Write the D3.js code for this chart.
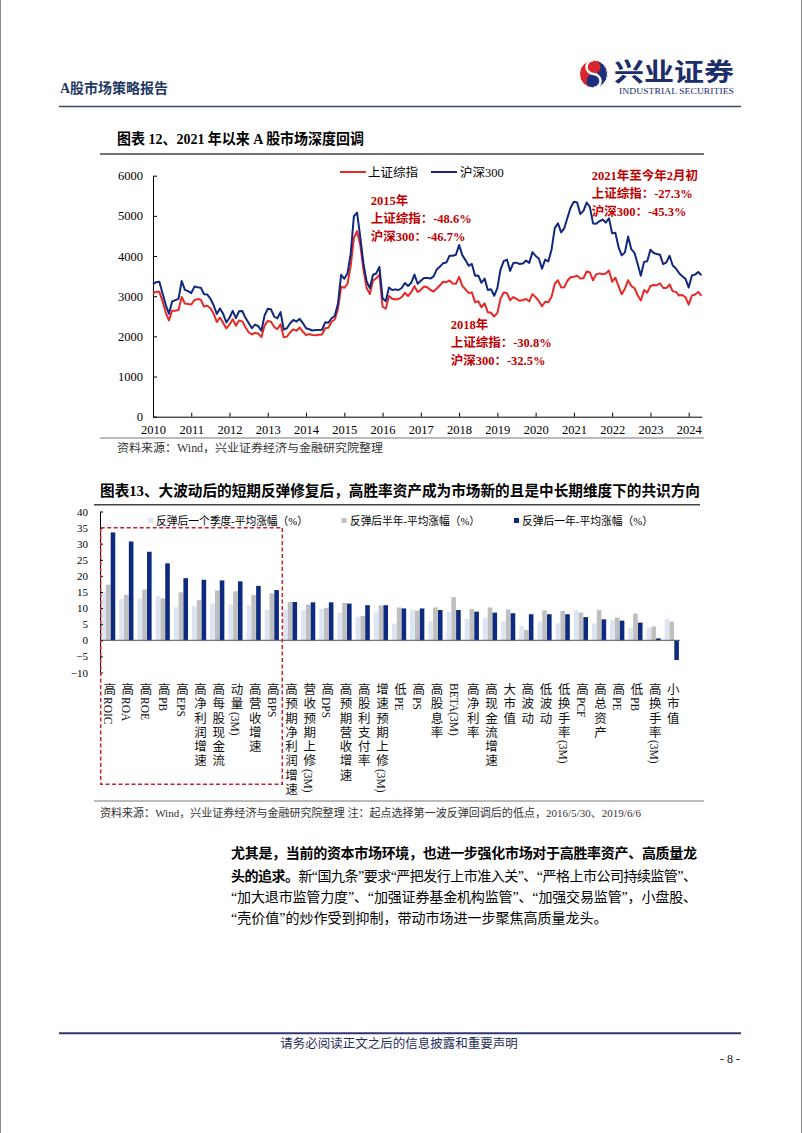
<!DOCTYPE html>
<html><head><meta charset="utf-8">
<script src="https://cdn.jsdelivr.net/npm/d3@7/dist/d3.min.js"></script>
<style>
body{margin:0;background:#fff;}
svg{display:block;}
text{font-family:"Liberation Serif","Noto Sans CJK SC",serif;}
</style></head><body>
<svg id="page" width="802" height="1133"></svg>
<script>
// ---------- DATA ----------
const lineYears = d3.range(2010, 2025);
const lineYTicks = d3.range(0, 6001, 1000);
const lineSeriesNames = ["上证综指", "沪深300"];
// monthly, Jan 2010 .. May 2024
const sseValues = [
 3070,3110,3109,2870,2592,2398,2638,2638,2655,2979,2820,2808,
 2791,2905,2928,2911,2743,2762,2701,2567,2359,2468,2333,2199,
 2292,2428,2263,2396,2373,2225,2103,2047,2086,2069,1980,2269,
 2385,2366,2237,2178,2301,1979,1994,2098,2175,2142,2220,2116,
 2033,2056,2033,2026,2039,2048,2202,2217,2364,2420,2683,3235,
 3210,3310,3748,4450,4620,4277,3664,3206,3053,3383,3446,3539,
 2738,2688,3004,2938,2917,2930,2979,3085,3005,3100,3250,3104,
 3159,3242,3223,3155,3117,3192,3273,3361,3349,3393,3317,3307,
 3481,3259,3169,3082,3095,2847,2876,2725,2821,2603,2588,2494,
 2585,2941,3091,3078,2899,2979,2932,2886,2905,2929,2872,3050,
 2977,2880,2750,2860,2852,2985,3310,3396,3218,3225,3392,3473,
 3483,3509,3442,3447,3615,3591,3397,3544,3568,3547,3564,3640,
 3361,3462,3252,3047,3186,3399,3253,3202,3024,2893,3151,3089,
 3255,3280,3273,3323,3205,3202,3291,3120,3110,3018,3030,2975,
 2789,3015,3041,3105,3010];
const csiValues = [
 3300,3350,3358,3067,2780,2564,2868,2903,2935,3379,3159,3128,
 3077,3239,3223,3212,3051,3044,2937,2780,2557,2695,2560,2346,
 2464,2634,2455,2627,2632,2462,2333,2204,2293,2254,2140,2523,
 2686,2673,2495,2447,2604,2172,2203,2326,2409,2368,2436,2331,
 2203,2178,2146,2160,2159,2165,2350,2338,2450,2508,2809,3533,
 3434,3572,4051,4990,5080,4473,3816,3366,3202,3534,3566,3731,
 2946,2877,3218,3156,3170,3154,3204,3329,3253,3336,3538,3311,
 3387,3452,3456,3439,3492,3666,3737,3822,3837,4007,4006,4031,
 4275,4023,3899,3757,3802,3510,3517,3335,3438,3153,3173,3011,
 3202,3670,3873,3913,3630,3826,3836,3799,3814,3886,3829,4097,
 4003,3940,3686,3912,3868,4164,4695,4816,4588,4696,4960,5211,
 5352,5336,5048,5124,5332,5224,4812,4806,4866,4908,4833,4940,
 4564,4581,4223,4016,4091,4485,4170,4079,3804,3508,3854,3872,
 4157,4077,4051,4030,3799,3842,4006,3765,3690,3573,3497,3431,
 3215,3516,3537,3604,3520];
const annotations = [
 ["2015年", "上证综指：-48.6%", "沪深300：-46.7%"],
 ["2018年", "上证综指：-30.8%", "沪深300：-32.5%"],
 ["2021年至今年2月初", "上证综指：-27.3%", "沪深300：-45.3%"]
];

const factorCategories = ["高ROIC","高ROA","高ROE","高PB","高EPS","高净利润增速","高每股现金流","动量(3M)","高营收增速","高BPS",
 "高预期净利润增速","营收预期上修(3M)","高DPS","高预期营收增速","高股利支付率","增速预期上修(3M)","低PE","高PS","高股息率","BETA(3M)",
 "高净利率","高现金流增速","大市值","高波动","低波动","低换手率(3M)","高PCF","高总资产","高PE","低PB","高换手率(3M)","小市值"];
const quarterValues = [14.9,12.8,13.0,13.8,10.3,10.6,11.5,11.1,10.9,9.4,
 9.5,9.4,9.7,8.6,7.3,8.6,5.2,9.6,6.0,8.9,
 6.6,7.0,6.0,4.4,5.8,5.3,9.4,5.3,6.4,3.8,4.0,6.6];
const halfYearValues = [17.3,14.1,15.8,13.0,14.9,12.5,15.5,15.2,14.1,14.6,
 11.9,11.1,10.1,11.6,7.6,10.8,10.2,9.2,10.2,13.4,
 9.7,10.2,9.6,3.2,9.3,9.1,8.6,9.4,7.1,8.3,4.3,5.8];
const oneYearValues = [33.5,30.7,27.5,23.9,19.3,18.8,18.6,18.3,16.9,15.6,
 11.9,11.8,11.8,11.4,10.9,10.9,9.9,9.9,9.4,9.4,
 8.9,8.6,8.4,8.1,8.1,8.1,7.2,6.5,6.1,5.5,0.6,-6.1];
const barSeriesNames = ["反弹后一个季度-平均涨幅（%）","反弹后半年-平均涨幅（%）","反弹后一年-平均涨幅（%）"];
const barYTicks = d3.range(-10, 41, 5);

// ---------- PAGE ----------
const svg = d3.select("#page");
const FONT = '"Liberation Serif","Noto Sans CJK SC",serif';
svg.append("line").attr("x1",0.5).attr("x2",0.5).attr("y1",0).attr("y2",1133).attr("stroke","#8a8a8a");
svg.append("line").attr("x1",801.5).attr("x2",801.5).attr("y1",0).attr("y2",1133).attr("stroke","#8a8a8a");

// header
svg.append("text").attr("x",60).attr("y",93).attr("font-size",14).attr("font-weight","bold").attr("fill","#1F3864").text("A股市场策略报告");
svg.append("line").attr("x1",59).attr("x2",741).attr("y1",106.5).attr("y2",106.5).attr("stroke","#3A4570").attr("stroke-width",1.5);
// logo
const lg = svg.append("g").attr("transform","translate(593.5,74)");
lg.append("circle").attr("r",14).attr("fill","#D7262E");
lg.append("path").attr("d","M0,-14 A14,14 0 0 1 0,14 A7,7 0 0 1 0,0 A7,7 0 0 0 0,-14 Z").attr("fill","#1B2F7A");
lg.append("path").attr("d","M0,-14 A7,7 0 0 0 0,0 A7,7 0 0 1 0,14").attr("fill","none").attr("stroke","#fff").attr("stroke-width",2.5);
lg.append("circle").attr("r",14).attr("fill","none").attr("stroke","#fff").attr("stroke-width",1);
svg.append("text").attr("x",614).attr("y",81).attr("font-size",25).attr("font-weight","bold").attr("fill","#1B2D6B")
  .attr("textLength",120).attr("lengthAdjust","spacingAndGlyphs").style("font-family",'"Noto Sans CJK SC"').text("兴业证券");
svg.append("text").attr("x",619).attr("y",94).attr("font-size",7.5).attr("fill","#1B2D6B")
  .attr("textLength",115).attr("lengthAdjust","spacingAndGlyphs").text("INDUSTRIAL SECURITIES");

// ---------- CHART 1 ----------
svg.append("text").attr("x",117).attr("y",144).attr("font-size",15).attr("font-weight","bold").attr("fill","#000")
  .attr("textLength",247).attr("lengthAdjust","spacingAndGlyphs").text("图表 12、2021 年以来 A 股市场深度回调");
svg.append("line").attr("x1",100).attr("x2",704).attr("y1",154).attr("y2",154).attr("stroke","#444").attr("stroke-width",1.5);

const x1 = d3.scaleLinear().domain([2010, 2024.34]).range([153, 701.7]);
const y1 = d3.scaleLinear().domain([0, 6000]).range([416.7, 175.7]);

const gx1 = svg.append("g").attr("transform","translate(0,416.7)")
  .call(d3.axisBottom(x1).tickValues(lineYears).tickFormat(d3.format("d")).tickSizeInner(-4).tickSizeOuter(0).tickPadding(8));
const gy1 = svg.append("g").attr("transform","translate(153,0)")
  .call(d3.axisLeft(y1).tickValues(lineYTicks).tickFormat(d3.format("d")).tickSizeInner(-4).tickSizeOuter(0).tickPadding(10));
[gx1, gy1].forEach(g => {
  g.attr("font-family", FONT).attr("font-size", 12.5);
  g.selectAll("text").attr("fill","#000");
  g.selectAll("path.domain,line").attr("stroke","#000");
});

const lineGen = d3.line().x((d,i)=>x1(2010 + i/12)).y(d=>y1(d));
const lineColors = ["#E52A27","#10297E"];
[sseValues, csiValues].forEach((vals, k) => {
  svg.append("path").datum(vals).attr("d", lineGen).attr("fill","none")
    .attr("stroke", lineColors[k]).attr("stroke-width", 2).attr("stroke-linejoin","round");
});

// legend 1
const leg1 = [[340, 368], [431, 460]];
lineSeriesNames.forEach((n,k) => {
  svg.append("line").attr("x1",leg1[k][0]).attr("x2",leg1[k][0]+26).attr("y1",172).attr("y2",172)
    .attr("stroke",lineColors[k]).attr("stroke-width",2);
  svg.append("text").attr("x",leg1[k][1]).attr("y",176.5).attr("font-size",12.5).attr("fill","#000").text(n);
});

// annotations
const annPos = [[370.7, 200, 18], [450.7, 324, 18], [591.7, 175, 18]];
annotations.forEach((a, k) => {
  a.forEach((s, j) => {
    svg.append("text").attr("x", annPos[k][0]).attr("y", annPos[k][1] + j*annPos[k][2] + 4.5)
      .attr("font-size",12.5).attr("font-weight","bold").attr("fill","#C00000").text(s);
  });
});

svg.append("line").attr("x1",100).attr("x2",704).attr("y1",438).attr("y2",438).attr("stroke","#777").attr("stroke-width",1);
svg.append("text").attr("x",117).attr("y",451.5).attr("font-size",11.5).attr("fill","#333")
  .attr("textLength",266).attr("lengthAdjust","spacingAndGlyphs").text("资料来源：Wind，兴业证券经济与金融研究院整理");

// ---------- CHART 2 ----------
svg.append("text").attr("x",100).attr("y",496).attr("font-size",15).attr("font-weight","bold").attr("fill","#000")
  .attr("textLength",600).attr("lengthAdjust","spacingAndGlyphs")
  .text("图表13、大波动后的短期反弹修复后，高胜率资产成为市场新的且是中长期维度下的共识方向");
svg.append("line").attr("x1",94).attr("x2",700).attr("y1",504.7).attr("y2",504.7).attr("stroke","#444").attr("stroke-width",1.5);

const xb = d3.scaleBand().domain(factorCategories).range([100, 680]).paddingInner(0.2).paddingOuter(0.05);
const xs = d3.scaleBand().domain([0,1,2]).range([0, xb.bandwidth()]).padding(0.04);
const yb = d3.scaleLinear().domain([-10, 40]).range([672.5, 511.5]);
const barColors = ["#DCE5F1","#BFBFBF","#0E2A7F"];
const barSeries = [quarterValues, halfYearValues, oneYearValues];

barSeries.forEach((vals, s) => {
  svg.append("g").selectAll("rect").data(factorCategories).join("rect")
    .attr("x", (c) => xb(c) + xs(s))
    .attr("width", xs.bandwidth())
    .attr("y", (c,i) => yb(Math.max(0, vals[i])))
    .attr("height", (c,i) => Math.abs(yb(vals[i]) - yb(0)))
    .attr("fill", barColors[s]);
});
svg.append("line").attr("x1",100).attr("x2",680).attr("y1",yb(0)).attr("y2",yb(0)).attr("stroke","#555").attr("stroke-width",1);

const gyb = svg.append("g").attr("transform","translate(100,0)")
  .call(d3.axisLeft(yb).tickValues(barYTicks).tickSizeInner(-3).tickSizeOuter(0).tickPadding(12));
gyb.attr("font-family", FONT).attr("font-size", 11);
gyb.selectAll("text").attr("fill","#000");
gyb.selectAll("path.domain,line").attr("stroke","#000");

// legend 2
const leg2 = [[148, 156, 152], [341.5, 350, 130], [514, 522, 131]];
barSeriesNames.forEach((n, s) => {
  svg.append("rect").attr("x",leg2[s][0]).attr("y",518).attr("width",5).attr("height",5).attr("fill",barColors[s]);
  svg.append("text").attr("x",leg2[s][1]).attr("y",524.8).attr("font-size",11).attr("fill","#000")
    .attr("textLength",leg2[s][2]).attr("lengthAdjust","spacingAndGlyphs").text(n);
});

// category labels (vertical)
const cjkRe = /[\u3000-\u9fff\uff00-\uffef]+|[^\u3000-\u9fff\uff00-\uffef]+/g;
factorCategories.forEach(c => {
  const t = svg.append("text").attr("x", xb(c) + xb.bandwidth()/2).attr("y", 683)
    .style("writing-mode","vertical-rl").attr("fill","#111");
  c.match(cjkRe).forEach(run => {
    const isCjk = /[\u3000-\u9fff]/.test(run);
    t.append("tspan").attr("font-size", isCjk ? 12.5 : 11.5)
      .style("letter-spacing", isCjk ? "1.8px" : "0px").text(run);
  });
});

// red dashed highlight box
svg.append("rect").attr("x",100.7).attr("y",527.7).attr("width",181.6).attr("height",256.6)
  .attr("fill","none").attr("stroke","#C8232C").attr("stroke-width",1.5).attr("stroke-dasharray","4,2.5");

svg.append("line").attr("x1",94).attr("x2",704).attr("y1",801).attr("y2",801).attr("stroke","#777").attr("stroke-width",1);
svg.append("text").attr("x",100).attr("y",817).attr("font-size",11).attr("fill","#333")
  .attr("textLength",541).attr("lengthAdjust","spacingAndGlyphs")
  .text("资料来源：Wind，兴业证券经济与金融研究院整理  注：起点选择第一波反弹回调后的低点，2016/5/30、2019/6/6");

// ---------- PARAGRAPH ----------
svg.append("text").attr("x",231).attr("y",858).attr("font-size",14).attr("font-weight","bold").attr("fill","#000")
  .attr("textLength",466).attr("lengthAdjust","spacing").text("尤其是，当前的资本市场环境，也进一步强化市场对于高胜率资产、高质量龙");
const p2 = svg.append("text").attr("x",231).attr("y",881).attr("font-size",14).attr("fill","#000")
  .attr("textLength",466).attr("lengthAdjust","spacing");
p2.append("tspan").attr("font-weight","bold").text("头的追求。");
p2.append("tspan").text("新“国九条”要求“严把发行上市准入关”、“严格上市公司持续监管”、");
svg.append("text").attr("x",231).attr("y",902).attr("font-size",14).attr("fill","#000")
  .attr("textLength",466).attr("lengthAdjust","spacing").text("“加大退市监管力度”、“加强证券基金机构监管”、“加强交易监管”，小盘股、");
svg.append("text").attr("x",231).attr("y",923).attr("font-size",14).attr("fill","#000")
  .text("“壳价值”的炒作受到抑制，带动市场进一步聚焦高质量龙头。");

// ---------- FOOTER ----------
svg.append("line").attr("x1",59).attr("x2",741).attr("y1",1033.3).attr("y2",1033.3).attr("stroke","#2E3A6E").attr("stroke-width",2);
svg.append("text").attr("x",399).attr("y",1048).attr("text-anchor","middle").attr("font-size",12.5).attr("fill","#1F2D5A")
  .text("请务必阅读正文之后的信息披露和重要声明");
svg.append("text").attr("x",740).attr("y",1063).attr("text-anchor","end").attr("font-size",12).attr("fill","#222").text("- 8 -");
</script>
</body></html>
